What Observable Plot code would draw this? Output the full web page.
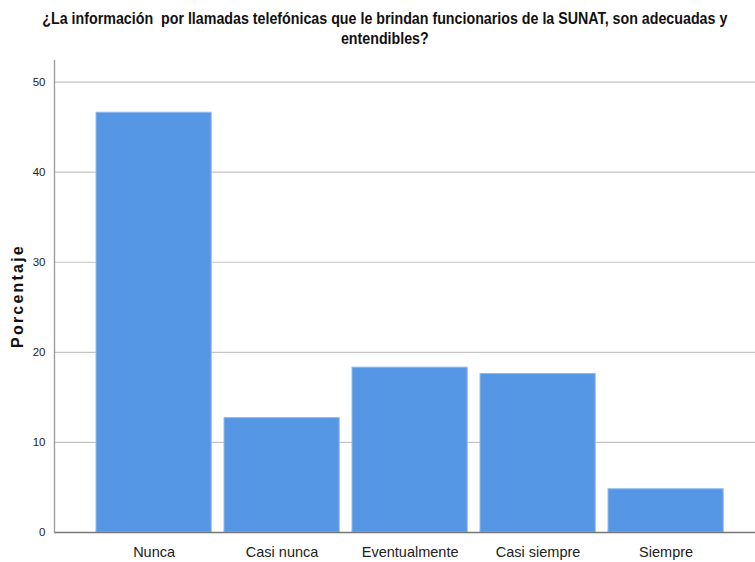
<!DOCTYPE html>
<html>
<head>
<meta charset="utf-8">
<script src="https://cdn.jsdelivr.net/npm/d3@7"></script>
<script src="https://cdn.jsdelivr.net/npm/@observablehq/plot@0.6"></script>
<style>
  html, body { margin: 0; padding: 0; background: #fff; }
  #wrap { width: 755px; height: 562px; position: relative; overflow: hidden; }
  #title { height: 56px; box-sizing: border-box; padding-top: 9px; text-align: center; }
  #title span { display: inline-block; transform: scaleX(0.89); transform-origin: center;
    font-family: "Liberation Sans", Arial, sans-serif; font-weight: bold;
    font-size: 16px; line-height: 20px; color: #111; white-space: nowrap; }
  svg { display: block; }
</style>
</head>
<body>
<div id="wrap">
  <div id="title"><span>¿La información&nbsp; por llamadas telefónicas que le brindan funcionarios de la SUNAT, son adecuadas y<br>entendibles?</span></div>
  <div id="chart"></div>
</div>
<script>
const categories = ["Nunca", "Casi nunca", "Eventualmente", "Casi siempre", "Siempre"];
const percentages = [46.6, 12.7, 18.3, 17.6, 4.8];
const yTicks = [0, 10, 20, 30, 40, 50];
const yLabel = "Porcentaje";

const data = categories.map((c, i) => ({category: c, value: percentages[i]}));

const chart = Plot.plot({
  width: 755,
  height: 506,
  marginLeft: 54,
  marginRight: 0,
  marginTop: 4,
  marginBottom: 30,
  style: {fontFamily: "'Liberation Sans', Arial, sans-serif", background: "#fff", color: "#222"},
  x: {domain: categories, padding: 0.1, round: false, insetLeft: 29.2, insetRight: 19, label: null},
  y: {domain: [0, 52.4], label: null},
  marks: [
    Plot.ruleY(yTicks.filter(d => d > 0), {y: d => d, stroke: "#c4c4c4", strokeWidth: 1.2}),
    Plot.barY(data, {x: "category", y: "value", fill: "#5596e5", stroke: "#8fbaf0", strokeWidth: 1}),
    Plot.ruleY([0], {stroke: "#777", strokeWidth: 1.3}),
    Plot.frame({anchor: "left", stroke: "#999", strokeWidth: 1.3}),
    Plot.axisY({ticks: yTicks, tickSize: 0, tickPadding: 9, fontSize: 11.5, label: null, fill: "#222"}),
    Plot.axisX({tickSize: 0, tickPadding: 14, fontSize: 14.5, label: null, fill: "#222"})
  ]
});
document.getElementById("chart").appendChild(chart);

// y-axis title as real text
const svg = d3.select(chart);
svg.append("text")
  .attr("transform", `translate(23, ${(4 + 476) / 2}) rotate(-90)`)
  .attr("text-anchor", "middle")
  .attr("font-family", "'Liberation Sans', Arial, sans-serif")
  .attr("font-weight", "bold")
  .attr("font-size", 16)
  .attr("letter-spacing", "2.2px")
  .attr("fill", "#111")
  .text(yLabel);
</script>
</body>
</html>
